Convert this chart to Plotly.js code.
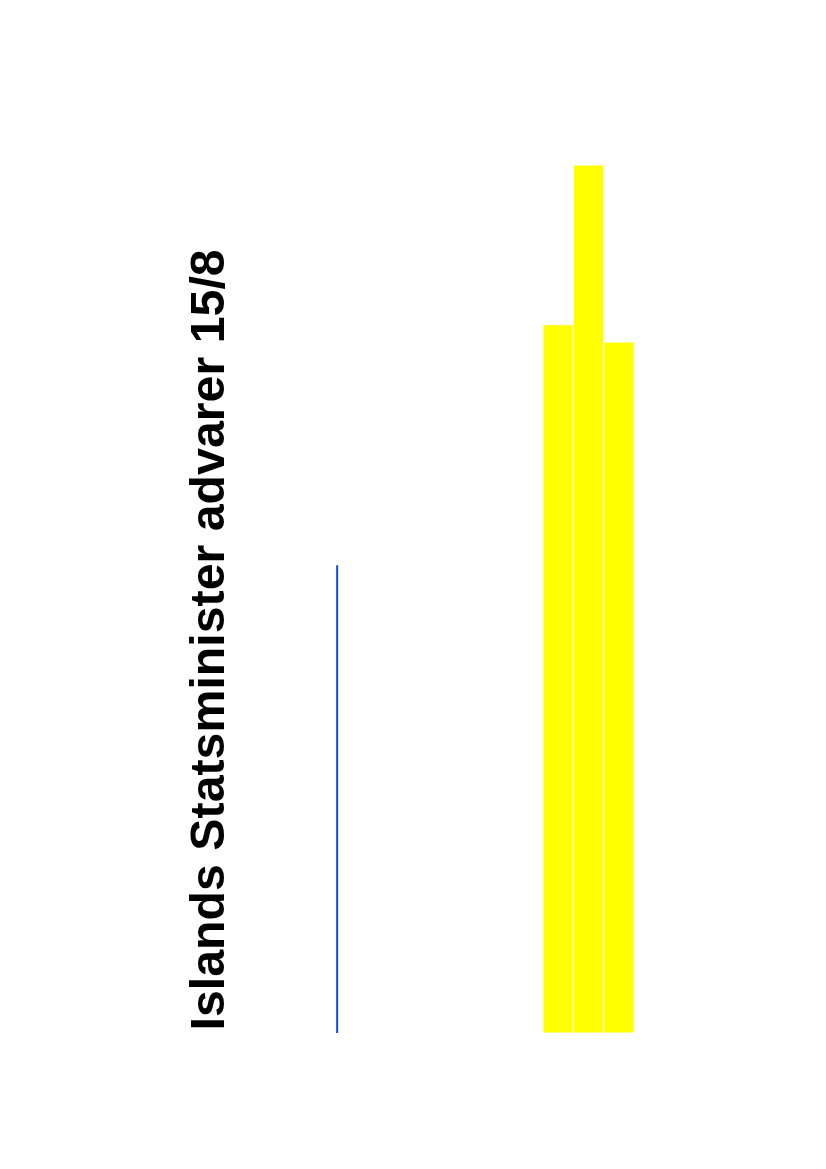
<!DOCTYPE html>
<html>
<head>
<meta charset="utf-8">
<script src="https://cdn.plot.ly/plotly-3.0.1.min.js"></script>
<style>html,body{margin:0;padding:0;background:#fff;}#chart{width:826px;height:1169px;}</style>
</head>
<body>
<div id="chart"></div>
<script>
// Data
const titleText = "Islands Statsminister advarer 15/8";
const barPositions = [1, 2, 3];
const barValues = [81.6, 100, 79.6];
const linePositions = [-6.27, -6.27];
const lineValues = [0, 53.9];

const traces = [
  {
    type: "bar",
    x: barPositions,
    y: barValues,
    width: 1,
    marker: { color: "#ffff00", line: { color: "#ffffff", width: 1 } },
    hoverinfo: "skip"
  },
  {
    type: "scatter",
    mode: "lines",
    x: linePositions,
    y: lineValues,
    line: { color: "#0b4fd6", width: 2 },
    hoverinfo: "skip"
  }
];

const layout = {
  width: 826,
  height: 1169,
  margin: { l: 0, r: 0, t: 165, b: 136, pad: 0 },
  paper_bgcolor: "#ffffff",
  plot_bgcolor: "#ffffff",
  showlegend: false,
  bargap: 0,
  xaxis: { range: [-17.36, 9.81], visible: false, showgrid: false, zeroline: false, fixedrange: true },
  yaxis: { range: [0, 100], visible: false, showgrid: false, zeroline: false, fixedrange: true },
  annotations: [
    {
      text: "<b>" + titleText + "</b>",
      xref: "paper", yref: "paper",
      x: 206 / 826, y: 0,
      xanchor: "center", yanchor: "bottom",
      textangle: -90,
      showarrow: false,
      font: { family: "Liberation Sans, Arial, sans-serif", size: 48.3, color: "#000000" }
    }
  ]
};

Plotly.newPlot("chart", traces, layout, { staticPlot: true, displayModeBar: false });
</script>
</body>
</html>
